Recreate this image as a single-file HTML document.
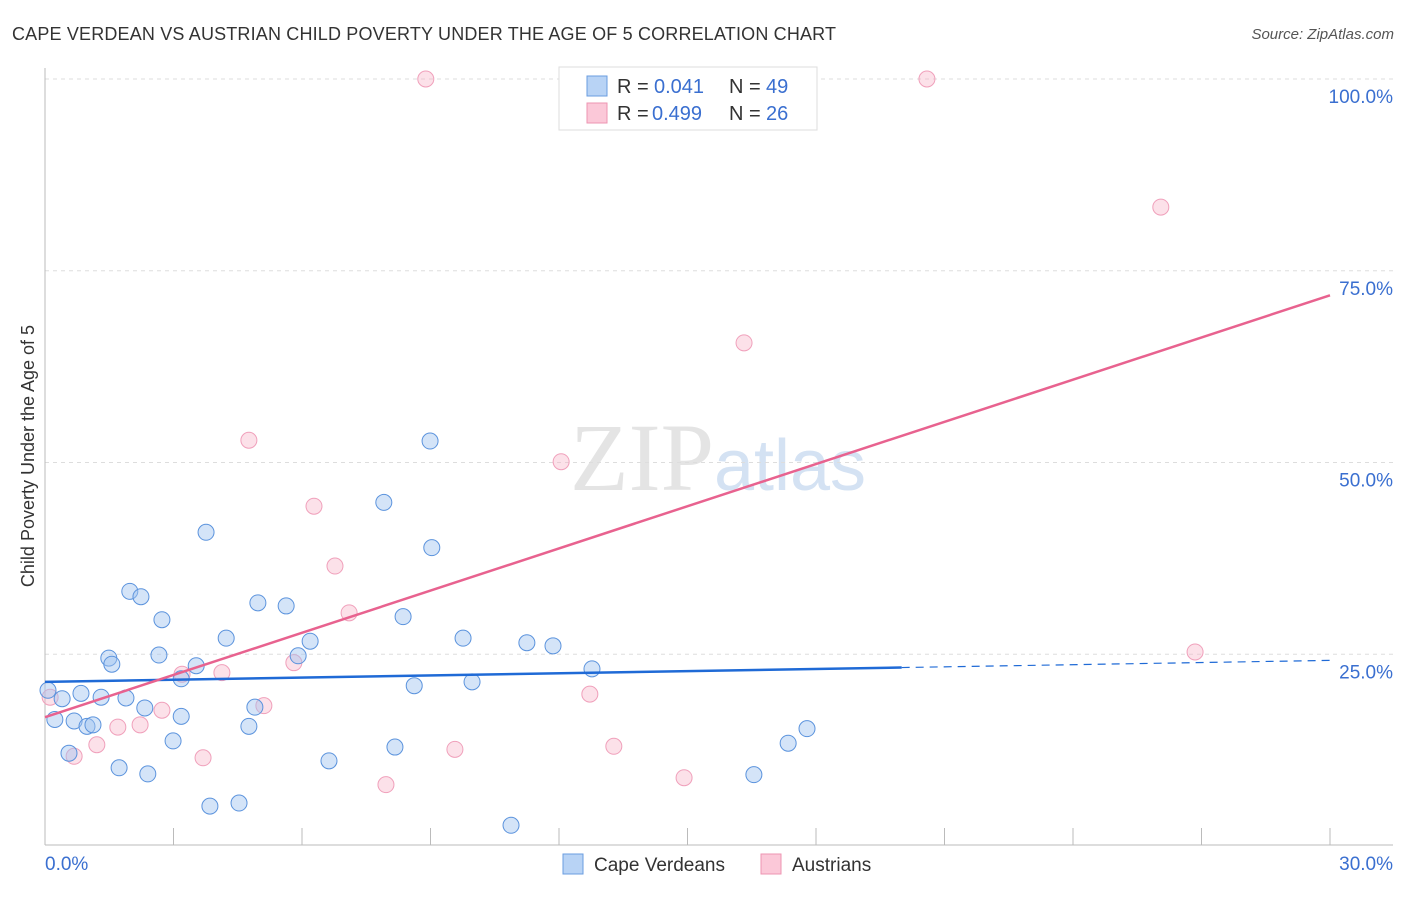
<!DOCTYPE html>
<html><head><meta charset="utf-8"><style>
body{margin:0;background:#fff;font-family:"Liberation Sans",sans-serif}
</style></head><body>
<svg width="1406" height="892" font-family="Liberation Sans, sans-serif">
<text x="12" y="40" font-size="18" fill="#333" textLength="824">CAPE VERDEAN VS AUSTRIAN CHILD POVERTY UNDER THE AGE OF 5 CORRELATION CHART</text>
<text x="1394" y="39" font-size="15" fill="#555" font-style="italic" text-anchor="end">Source: ZipAtlas.com</text>
<text x="718" y="490" font-size="96" fill="#e4e4e4" text-anchor="middle" font-family="Liberation Serif, serif">ZIP<tspan fill="#d4e2f3" font-family="Liberation Sans, sans-serif" font-size="72">atlas</tspan></text>
<text transform="translate(34,456) rotate(-90)" font-size="18" fill="#333" text-anchor="middle">Child Poverty Under the Age of 5</text>
<g id="grid"></g><g id="axes"></g><g id="marks"></g>
<g>
<rect x="559" y="67" width="258" height="63" fill="#fff" stroke="#ddd"/>
<rect x="587" y="76" width="20" height="20" fill="#b8d3f5" stroke="#6a9de0"/>
<rect x="587" y="103" width="20" height="20" fill="#fbc8d8" stroke="#ee94b2"/>
<text x="617" y="93" font-size="20" fill="#333">R = </text>
<text x="654" y="93" font-size="20" fill="#3a6fd0">0.041</text>
<text x="729" y="93" font-size="20" fill="#333">N = </text>
<text x="766" y="93" font-size="20" fill="#3a6fd0">49</text>
<text x="617" y="120" font-size="20" fill="#333">R = </text>
<text x="652" y="120" font-size="20" fill="#3a6fd0">0.499</text>
<text x="729" y="120" font-size="20" fill="#333">N = </text>
<text x="766" y="120" font-size="20" fill="#3a6fd0">26</text>
</g>
<g>
<rect x="563" y="854" width="20" height="20" fill="#b8d3f5" stroke="#6a9de0"/>
<text x="594" y="871" font-size="19" fill="#333">Cape Verdeans</text>
<rect x="761" y="854" width="20" height="20" fill="#fbc8d8" stroke="#ee94b2"/>
<text x="792" y="871" font-size="19" fill="#333">Austrians</text>
</g>
</svg>
<script>
const blueX=[0.07,0.23,0.40,0.56,0.68,0.84,0.98,1.12,1.31,1.49,1.56,1.73,1.89,1.98,2.24,2.33,2.40,2.66,2.73,2.99,3.18,3.18,3.53,3.76,3.85,4.23,4.53,4.76,4.90,4.97,5.63,5.91,6.19,6.63,7.91,8.17,8.36,8.62,8.99,9.03,9.76,9.97,10.88,11.25,11.86,12.77,16.55,17.35,17.79];
const blueY=[20.3,16.5,19.2,12.1,16.3,19.9,15.6,15.8,19.4,24.5,23.7,10.2,19.3,33.2,32.5,18.0,9.4,24.9,29.5,13.7,21.8,16.9,23.5,40.9,5.2,27.1,5.6,15.6,18.1,31.7,31.3,24.8,26.7,11.1,44.8,12.9,29.9,20.9,52.8,38.9,27.1,21.4,2.7,26.5,26.1,23.1,9.3,13.4,15.3];
const pinkX=[0.12,0.68,1.21,1.70,2.22,2.73,3.20,3.69,4.13,4.76,5.11,5.81,6.28,6.77,7.10,7.96,8.89,9.57,12.05,12.72,13.28,14.92,16.32,20.59,26.05,26.85];
const pinkY=[19.4,11.7,13.2,15.5,15.8,17.7,22.4,11.5,22.6,52.9,18.3,23.9,44.3,36.5,30.4,8.0,100,12.6,50.1,19.8,13.0,8.9,65.6,100,83.3,25.3];
const blueTrend=[21.4,24.2];
const pinkTrend=[16.8,71.8];
const yTicks=[25,50,75,100];
const xTickLabels=["0.0%","30.0%"];
const NS="http://www.w3.org/2000/svg";
const sx=v=>45+v/30*1285, sy=v=>846-v/100*767;
function mk(t,a,p){const e=document.createElementNS(NS,t);for(const k in a)e.setAttribute(k,a[k]);p.appendChild(e);return e;}
const grid=document.getElementById('grid'),axes=document.getElementById('axes'),marks=document.getElementById('marks');
yTicks.forEach(v=>{
 const l=mk('line',{x1:45,x2:1393,y1:sy(v),y2:sy(v),stroke:'#ddd','stroke-dasharray':'4,4'},grid);
 
 
 const t=mk('text',{x:1393,y:sy(v)+24,'font-size':19,fill:'#3a6fd0','text-anchor':'end'},axes);
 t.textContent=v.toFixed(1)+'%';
 
 
});
mk('line',{x1:45,x2:45,y1:68,y2:845,stroke:'#bbb'},axes);
mk('line',{x1:45,x2:1393,y1:845,y2:845,stroke:'#bbb'},axes);
for(let i=1;i<=10;i++){const x=sx(i*3);mk('line',{x1:x,x2:x,y1:828,y2:845,stroke:'#bbb'},axes);}
const t0=mk('text',{x:45,y:870,'font-size':19,fill:'#3a6fd0'},axes);t0.textContent=xTickLabels[0];


const t1=mk('text',{x:1393,y:870,'font-size':19,fill:'#3a6fd0','text-anchor':'end'},axes);t1.textContent=xTickLabels[1];


pinkX.forEach((x,i)=>{const c=mk('circle',{cx:sx(x),cy:sy(pinkY[i]),r:8,fill:'rgba(248,180,200,0.4)',stroke:'#f0a0bb','stroke-width':1},marks);
 
 });
blueX.forEach((x,i)=>{const c=mk('circle',{cx:sx(x),cy:sy(blueY[i]),r:8,fill:'rgba(160,195,240,0.45)',stroke:'#5b93dd','stroke-width':1},marks);
 
 });
const by=x=>blueTrend[0]+(blueTrend[1]-blueTrend[0])*x/30;
const bl=mk('line',{x1:sx(0),y1:sy(by(0)),x2:sx(20),y2:sy(by(20)),stroke:'#1f6ad6','stroke-width':2.5},marks);


const bd=mk('line',{x1:sx(20),y1:sy(by(20)),x2:sx(30),y2:sy(by(30)),stroke:'#1f6ad6','stroke-width':1.2,'stroke-dasharray':'8,6'},marks);


const pl=mk('line',{x1:sx(0),y1:sy(pinkTrend[0]),x2:sx(30),y2:sy(pinkTrend[1]),stroke:'#e8628f','stroke-width':2.5},marks);


</script>
</body></html>
